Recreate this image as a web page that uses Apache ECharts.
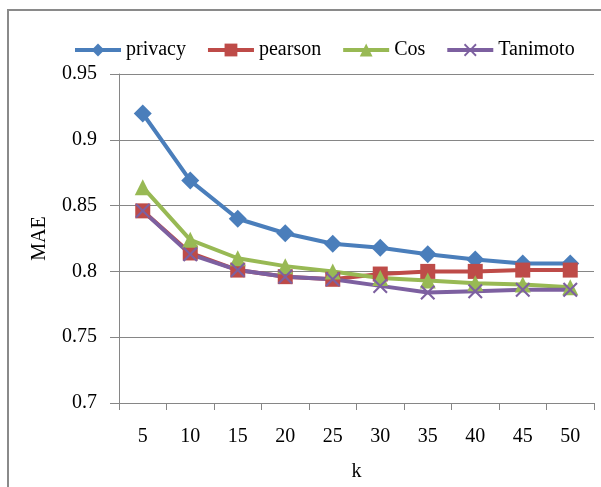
<!DOCTYPE html>
<html><head><meta charset="utf-8">
<script src="https://cdn.jsdelivr.net/npm/echarts@6/dist/echarts.min.js"></script>
<style>html,body{margin:0;padding:0;background:#fff}#c{width:601px;height:487px}</style>
</head><body><div id="c"></div>
<script>
const categories = ['5','10','15','20','25','30','35','40','45','50'];
const privacy  = [0.920, 0.869, 0.840, 0.829, 0.821, 0.818, 0.813, 0.809, 0.806, 0.806];
const pearson  = [0.846, 0.814, 0.801, 0.796, 0.794, 0.798, 0.800, 0.800, 0.801, 0.801];
const cos      = [0.864, 0.824, 0.810, 0.804, 0.800, 0.795, 0.793, 0.791, 0.790, 0.788];
const tanimoto = [0.846, 0.813, 0.801, 0.796, 0.794, 0.789, 0.784, 0.785, 0.786, 0.786];
const yTicks = { min: 0.7, max: 0.95, interval: 0.05 };

const FONT = 'Liberation Serif';
const xPath = 'path://M0,1L1,0L5,4L9,0L10,1L6,5L10,9L9,10L5,6L1,10L0,9L4,5Z';
function mk(name, data, color, symbol, size) {
  return { name, type: 'line', data, symbol, symbolSize: size, showSymbol: true,
    lineStyle: { color, width: 4 }, itemStyle: { color, borderWidth: 0 } };
}
const lbl = { fontFamily: FONT, fontSize: 20, color: '#000' };
const chart = echarts.init(document.getElementById('c'));
chart.setOption({
  animation: false,
  textStyle: { fontFamily: FONT },
  graphic: [{ type: 'rect', shape: { x: 8, y: 10, width: 700, height: 600 },
    style: { fill: 'none', stroke: '#8a8a8a', lineWidth: 2 } }],
  legend: { left: 68, top: 35, itemWidth: 46, itemHeight: 16, itemGap: 20,
    lineStyle: { width: 4 },
    textStyle: { fontFamily: FONT, fontSize: 20, color: '#000' },
    data: ['privacy', 'pearson', 'Cos', 'Tanimoto'] },
  grid: { left: 119, right: 7, top: 74, bottom: 81 },
  xAxis: { type: 'category', data: categories, boundaryGap: true,
    name: 'k', nameLocation: 'middle', nameGap: 59,
    nameTextStyle: lbl,
    axisLine: { lineStyle: { color: '#868686', width: 1 } },
    axisTick: { show: true, length: 7, lineStyle: { color: '#868686' } },
    axisLabel: { fontFamily: FONT, fontSize: 20, color: '#000', margin: 24, interval: 0 } },
  yAxis: { type: 'value', min: yTicks.min, max: yTicks.max, interval: yTicks.interval,
    name: 'MAE', nameLocation: 'middle', nameGap: 69, nameRotate: 90,
    nameTextStyle: lbl,
    axisLine: { show: true, lineStyle: { color: '#868686', width: 1 } },
    axisTick: { show: true, length: 9, lineStyle: { color: '#868686' } },
    splitLine: { lineStyle: { color: '#868686', width: 1 } },
    axisLabel: { fontFamily: FONT, fontSize: 20, color: '#000', margin: 22 } },
  series: [
    mk('privacy', privacy, '#4a7ebb', 'diamond', 18),
    mk('pearson', pearson, '#be4b48', 'rect', 15),
    mk('Cos', cos, '#98b954', 'triangle', 16),
    mk('Tanimoto', tanimoto, '#7d60a0', xPath, 15)
  ]
});
</script></body></html>
